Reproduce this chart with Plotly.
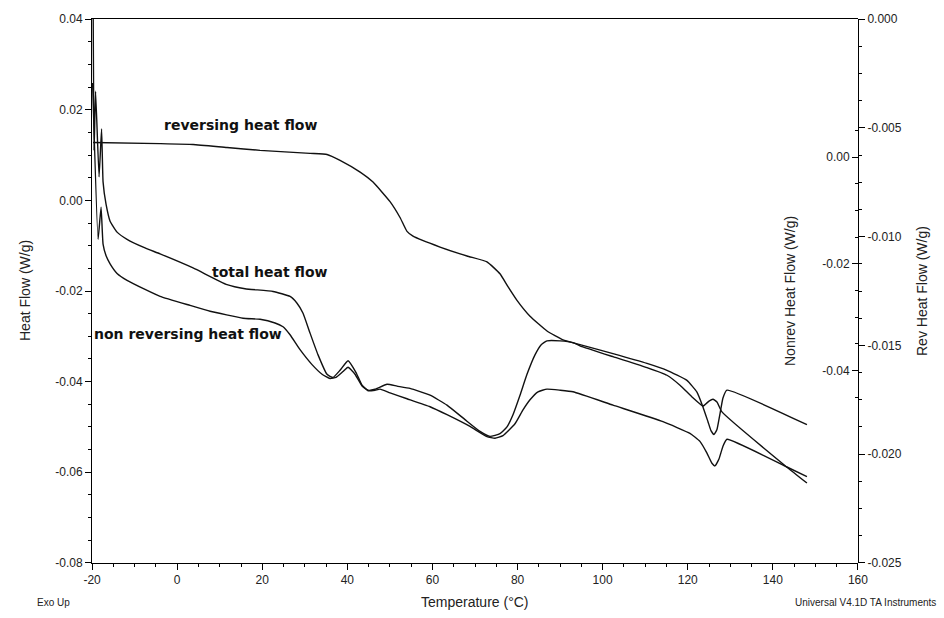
import plotly.graph_objects as go

# ---------------- data ----------------
# Total heat flow (left axis, W/g)
total_T = [-19.77, -19.53, -19.18, -18.36, -17.77, -17.42, -16.71, -15.77, -14.13, -11.78,
           -7.55, -4.02, 3.73, 11.72, 15.95, 22.53, 26.53, 28.17, 29.58, 31.23,
           33.11, 35.22, 36.63, 38.28, 40.16, 42.04, 43.45, 44.86, 46.50, 49.32,
           51.67, 54.73, 59.43, 63.42, 67.65, 71.18, 73.53, 75.87, 77.52, 78.93,
           80.58, 82.22, 84.10, 85.51, 86.92, 89.98, 93.03, 94.67, 102.43, 110.42,
           115.12, 118.18, 121.00, 123.58, 125.0, 125.93, 126.87, 128.05, 143.32, 148.02]
total_hf = [0.047, 0.0110, 0.0241, 0.0052, 0.0158, 0.0041, -0.0009, -0.0046, -0.0070, -0.0086,
            -0.0105, -0.0118, -0.0149, -0.0186, -0.0195, -0.0201, -0.0212, -0.0227, -0.0249, -0.0293,
            -0.0341, -0.0384, -0.0391, -0.0375, -0.0354, -0.0380, -0.0408, -0.0419, -0.0417, -0.0406,
            -0.0410, -0.0415, -0.0430, -0.0452, -0.0484, -0.0510, -0.0521, -0.0515, -0.0500, -0.0473,
            -0.0430, -0.0384, -0.0341, -0.0319, -0.0310, -0.0310, -0.0314, -0.0321, -0.0345, -0.0369,
            -0.0386, -0.0408, -0.0434, -0.0454, -0.0443, -0.0439, -0.0445, -0.0467, -0.0589, -0.0624]

# Non reversing heat flow (Nonrev axis, W/g)
nonrev_T = [-19.88, -18.59, -17.89, -17.42, -16.71, -15.77, -14.13, -11.78, -7.55, -4.02,
            3.03, 7.73, 15.48, 19.48, 23.0, 24.88, 26.53, 28.88, 31.70, 34.05,
            35.93, 37.34, 38.98, 40.16, 41.80, 43.45, 44.86, 46.50, 47.68, 50.03,
            54.02, 59.43, 63.42, 68.83, 72.82, 74.70, 76.58, 79.40, 81.28, 82.93,
            84.81, 86.92, 89.98, 93.03, 102.43, 114.18, 120.52, 122.87, 124.52, 125.69,
            126.40, 127.34, 128.28, 129.22, 143.32, 148.02]
nonrev_hf = [0.0139, -0.0154, -0.0094, -0.0163, -0.0185, -0.0200, -0.0218, -0.0231, -0.0248, -0.0261,
             -0.0278, -0.0289, -0.0302, -0.0304, -0.0311, -0.0318, -0.0333, -0.0361, -0.0389, -0.0407,
             -0.0415, -0.0413, -0.0402, -0.0394, -0.0407, -0.0429, -0.0438, -0.0437, -0.0435, -0.0442,
             -0.0453, -0.0468, -0.0483, -0.0505, -0.0524, -0.0527, -0.0522, -0.0500, -0.0474, -0.0455,
             -0.0440, -0.0435, -0.0437, -0.0440, -0.0465, -0.0496, -0.0518, -0.0533, -0.0555, -0.0574,
             -0.0579, -0.0566, -0.0542, -0.0529, -0.0581, -0.0599]

# Reversing heat flow (Rev axis, W/g)
rev_T = [-19.77, -4.02, 3.73, 11.72, 19.48, 31.23, 35.22, 38.28, 43.0, 46.03,
         50.03, 52.38, 54.02, 55.43, 61.78, 68.12, 72.82, 75.87, 77.75, 79.87,
         82.93, 86.92, 90.68, 94.67, 102.43, 110.42, 115.12, 119.82, 122.17, 123.58,
         124.76, 125.46, 126.17, 126.87, 127.58, 128.28, 129.22, 148.02]
rev_hf = [-0.00567, -0.00572, -0.00576, -0.00590, -0.00603, -0.00617, -0.00622, -0.00649, -0.00703, -0.00749,
          -0.00839, -0.00912, -0.00976, -0.00998, -0.01048, -0.01089, -0.01116, -0.01171, -0.01230, -0.01293,
          -0.01366, -0.01434, -0.01475, -0.01497, -0.01538, -0.01583, -0.01615, -0.01661, -0.01715, -0.01783,
          -0.01851, -0.01892, -0.01910, -0.01887, -0.01815, -0.01742, -0.01706, -0.01865]

# ---------------- ticks ----------------
x_ticks = [-20, 0, 20, 40, 60, 80, 100, 120, 140, 160]
x_ticktext = ["-20", "0", "20", "40", "60", "80", "100", "120", "140", "160"]
left_ticks = [0.04, 0.02, 0.00, -0.02, -0.04, -0.06, -0.08]
left_ticktext = ["0.04", "0.02", "0.00", "-0.02", "-0.04", "-0.06", "-0.08"]
nonrev_ticks = [0.00, -0.02, -0.04]
nonrev_ticktext = ["0.00", "-0.02", "-0.04"]
nonrev_minor = [0.005, -0.005, -0.010, -0.015, -0.025, -0.030, -0.035, -0.045]
rev_ticks = [0.000, -0.005, -0.010, -0.015, -0.020, -0.025]
rev_ticktext = ["0.000", "-0.005", "-0.010", "-0.015", "-0.020", "-0.025"]

LINE = "#111111"
TXT = "#222222"
FONT = "Liberation Sans, Arial, sans-serif"

fig = go.Figure()
line_style = dict(color=LINE, width=1.4, shape="spline", smoothing=0.4)
fig.add_trace(go.Scatter(x=total_T, y=total_hf, mode="lines", yaxis="y",
                         line=line_style, name="total heat flow"))
fig.add_trace(go.Scatter(x=nonrev_T, y=nonrev_hf, mode="lines", yaxis="y2",
                         line=line_style, name="non reversing heat flow"))
fig.add_trace(go.Scatter(x=rev_T, y=rev_hf, mode="lines", yaxis="y3",
                         line=line_style, name="reversing heat flow"))

axis_common = dict(showline=True, linecolor="black", linewidth=1, showgrid=False,
                   zeroline=False, tickcolor="black", tickfont=dict(family=FONT, size=12, color=TXT))

fig.update_layout(
    width=944, height=618,
    margin=dict(l=92, r=86, t=12, b=55),
    plot_bgcolor="white", paper_bgcolor="white",
    showlegend=False,
    font=dict(family=FONT, size=12, color=TXT),
    xaxis=dict(range=[-20.02, 160.02], tickmode="array", tickvals=x_ticks, ticktext=x_ticktext,
               ticks="outside", ticklen=6, mirror=True,
               minor=dict(dtick=5, tick0=0, ticks="outside", ticklen=3, tickcolor="black"),
               domain=[0, 1], **axis_common),
    yaxis=dict(range=[-0.08005, 0.04005], tickmode="array", tickvals=left_ticks, ticktext=left_ticktext,
               ticks="outside", ticklen=6,
               minor=dict(dtick=0.005, tick0=0, ticks="outside", ticklen=3, tickcolor="black"),
               **axis_common),
    # Nonrev axis drawn on the right frame line, labels on its inner (left) side
    yaxis2=dict(range=[-0.0761, 0.0259], overlaying="y", side="left", anchor="free", position=1,
                tickmode="array", tickvals=nonrev_ticks, ticktext=nonrev_ticktext,
                ticks="outside", ticklen=6,
                minor=dict(tickvals=nonrev_minor, ticks="outside", ticklen=3, tickcolor="black"),
                **axis_common),
    yaxis3=dict(range=[-0.02501, 0.00001], overlaying="y", side="right", anchor="free", position=1,
                tickmode="array", tickvals=rev_ticks, ticktext=rev_ticktext,
                ticks="outside", ticklen=6,
                minor=dict(dtick=0.00125, tick0=0, ticks="outside", ticklen=3, tickcolor="black"),
                **axis_common),
)

ann = []
# curve labels
label_font = dict(family="DejaVu Sans, Verdana, sans-serif", size=14, color="#111")
ann.append(dict(x=14.8, y=0.0167, xref="x", yref="y", text="<b>reversing heat flow</b>",
                showarrow=False, font=label_font))
ann.append(dict(x=21.8, y=-0.0158, xref="x", yref="y", text="<b>total heat flow</b>",
                showarrow=False, font=label_font))
ann.append(dict(x=2.6, y=-0.0296, xref="x", yref="y", text="<b>non reversing heat flow</b>",
                showarrow=False, font=label_font))
# axis titles
ann.append(dict(x=-0.1005, y=0.5, xref="paper", yref="paper", text="Heat Flow (W/g)", textangle=-90,
                showarrow=False, font=dict(family=FONT, size=14, color=TXT)))
ann.append(dict(x=0.9243, y=0.5, xref="paper", yref="paper", text="Nonrev Heat Flow (W/g)", textangle=-90,
                showarrow=False, font=dict(family=FONT, size=14, color=TXT)))
ann.append(dict(x=1.0966, y=0.5, xref="paper", yref="paper", text="Rev Heat Flow (W/g)", textangle=-90,
                showarrow=False, font=dict(family=FONT, size=14, color=TXT)))
ann.append(dict(x=0.5, y=-0.0726, xref="paper", yref="paper", text="Temperature (°C)",
                showarrow=False, font=dict(family=FONT, size=14, color=TXT), yanchor="middle"))
ann.append(dict(x=-0.0744, y=-0.0726, xref="paper", yref="paper", text="Exo Up",
                showarrow=False, font=dict(family=FONT, size=10, color=TXT), yanchor="middle"))
ann.append(dict(x=1.105, y=-0.0726, xref="paper", yref="paper", text="Universal V4.1D TA Instruments",
                xanchor="right", showarrow=False, font=dict(family=FONT, size=10, color=TXT),
                yanchor="middle"))
fig.update_layout(annotations=ann)

fig.write_html("out.html", config={"displayModeBar": False},
               post_script="document.body.style.margin='0';document.body.style.overflow='hidden';")
